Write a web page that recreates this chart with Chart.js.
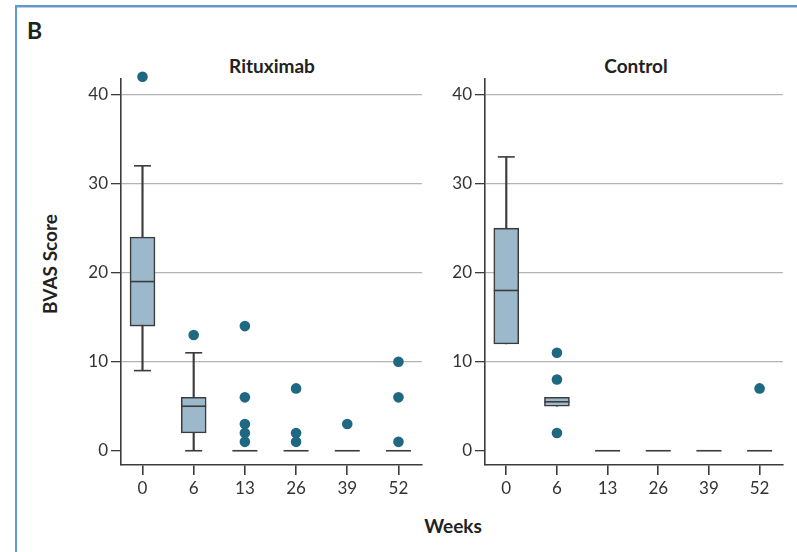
<!DOCTYPE html>
<html>
<head>
<meta charset="utf-8">
<script src="https://cdn.jsdelivr.net/npm/chart.js@4.4.1/dist/chart.umd.min.js"></script>
<style>
  html, body { margin: 0; padding: 0; background: #fff; }
  body { width: 797px; height: 552px; position: relative; overflow: hidden; font-family: Lato, "Open Sans", sans-serif; color: #222; }
  .frame { position: absolute; left: 15px; top: 5px; width: 800px; height: 560px; border-top: 2px solid #5b9bd5; border-left: 2px solid #5b9bd5; }
  .frame::after { content: ""; position: absolute; left: 0; right: 0; top: 0; border-top: 1px solid #c9c9c9; }
  canvas { position: absolute; top: 0; }
  .lbl { position: absolute; font-weight: bold; white-space: nowrap; line-height: 1; color: #222; }
</style>
</head>
<body>
<div class="frame"></div>
<div class="lbl" style="left:27px; top:19px; font-size:23px;">B</div>
<div class="lbl" style="left:272px; top:56px; font-size:19px; transform:translateX(-50%);">Rituximab</div>
<div class="lbl" style="left:636px; top:56px; font-size:19px; transform:translateX(-50%);">Control</div>
<div class="lbl" style="left:49px; top:264px; font-size:19px; transform:translate(-50%,-50%) rotate(-90deg);">BVAS Score</div>
<div class="lbl" style="left:453px; top:516px; font-size:19px; transform:translateX(-50%);">Weeks</div>
<canvas id="ritChart" width="440" height="552" style="left:0"></canvas>
<canvas id="ctrlChart" width="357" height="552" style="left:440px"></canvas>
<script>
const weeks = ["0", "6", "13", "26", "39", "52"];
const yTicks = [0, 10, 20, 30, 40];

// rituximab group: whiskers, quartiles, medians, outliers
const ritLow = [9, 0, null, null, null, null];
const ritQ1 = [14, 2, null, null, null, null];
const ritMedian = [19, 5, 0, 0, 0, 0];
const ritQ3 = [24, 6, null, null, null, null];
const ritHigh = [32, 11, null, null, null, null];
const ritOutliers = [[42], [13], [14, 6, 3, 2, 1], [7, 2, 1], [3], [10, 6, 1]];

// control group (no lower whisker at week 0, none at all at week 6)
const ctrlLow = [12, 5, null, null, null, null];
const ctrlQ1 = [12, 5, null, null, null, null];
const ctrlMedian = [18, 5.5, 0, 0, 0, 0];
const ctrlQ3 = [25, 6, null, null, null, null];
const ctrlHigh = [33, 6, null, null, null, null];
const ctrlOutliers = [[], [11, 8, 2], [], [], [], [7]];

const ink = "#3c3c3c";

function points(arr) {
  return arr.map((v, i) => v === null ? null : { x: i, y: v }).filter(Boolean);
}
function ranges(lo, hi) {
  return lo.map((v, i) => v === null ? null : { x: i, y: [v, hi[i]] }).filter(Boolean);
}
// caps only where the whisker sticks out of the box
function caps(low, q1, q3, high) {
  return points(low.map((v, i) => v !== null && v < q1[i] ? v : null))
    .concat(points(high.map((v, i) => v !== null && v > q3[i] ? v : null)));
}

function boxChart(id, yWidth, padRight, low, q1, med, q3, high, outliers) {
  const outPts = [];
  outliers.forEach((vals, i) => vals.forEach(v => outPts.push({ x: i, y: v })));

  return new Chart(document.getElementById(id), {
    type: "bar",
    data: {
      datasets: [
        { type: "scatter", data: outPts, order: 0, clip: false,
          pointRadius: 5.3, pointBackgroundColor: "#1f6882", pointBorderWidth: 0 },
        { type: "scatter", data: points(med), order: 1,
          pointStyle: "line", pointRadius: 12.5, pointBorderWidth: 1.6, pointBorderColor: ink },
        { type: "scatter", data: caps(low, q1, q3, high), order: 2,
          pointStyle: "line", pointRadius: 8.5, pointBorderWidth: 1.6, pointBorderColor: ink },
        { data: ranges(q1, q3), order: 3, grouped: false, barThickness: 25,
          backgroundColor: "#9bb9cb", borderColor: ink, borderWidth: 1.6, borderSkipped: false },
        { data: ranges(low, high), order: 4, grouped: false, barThickness: 1.5,
          backgroundColor: ink, borderWidth: 0 }
      ]
    },
    options: {
      responsive: false,
      animation: false,
      events: [],
      layout: { padding: { left: 0, right: padRight, top: 79, bottom: 0 } },
      plugins: { legend: { display: false }, tooltip: { enabled: false } },
      scales: {
        x: {
          type: "linear", min: -0.42, max: 5.46, offset: false,
          afterBuildTicks: s => { s.ticks = weeks.map((w, i) => ({ value: i })); },
          afterFit: s => { s.height = 87; },
          ticks: { callback: v => weeks[Math.round(v)], color: "#333", padding: 3,
                   font: { family: "Lato", size: 17 } },
          grid: { offset: false, drawOnChartArea: false, tickLength: 10, tickColor: ink, lineWidth: 1.6 },
          border: { display: true, color: ink, width: 1.6 }
        },
        y: {
          min: -1.6, max: 41.75,
          afterBuildTicks: s => { s.ticks = yTicks.map(v => ({ value: v })); },
          afterFit: s => { s.width = yWidth; },
          ticks: { color: "#333", padding: 3, font: { family: "Lato", size: 17 } },
          grid: { color: c => c.tick && c.tick.value === 0 ? "rgba(0,0,0,0)" : "#b4b4b4",
                  lineWidth: 1.3, tickLength: 10, tickColor: ink },
          border: { display: true, color: ink, width: 1.6 }
        }
      }
    }
  });
}

boxChart("ritChart", 121, 18, ritLow, ritQ1, ritMedian, ritQ3, ritHigh, ritOutliers);
boxChart("ctrlChart", 45, 10, ctrlLow, ctrlQ1, ctrlMedian, ctrlQ3, ctrlHigh, ctrlOutliers);
</script>
</body>
</html>
